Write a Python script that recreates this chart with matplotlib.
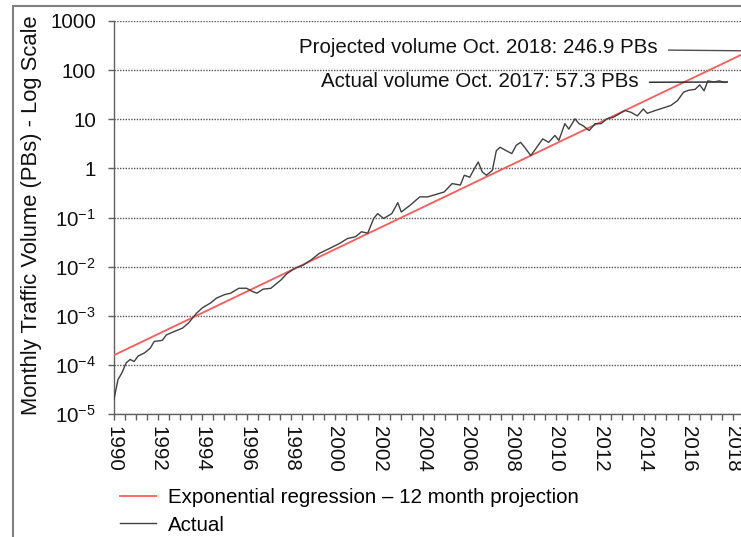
import numpy as np
import matplotlib
matplotlib.use("Agg")
import matplotlib.pyplot as plt
from matplotlib.patches import Rectangle
from matplotlib.ticker import FixedLocator, FixedFormatter, MultipleLocator, NullLocator

plt.rcParams["font.family"] = ["Liberation Sans", "DejaVu Sans"]
plt.rcParams["mathtext.default"] = "regular"

# ============================================================
# DATA
# ============================================================

actual_years = [
    1990.0, 1990.18, 1990.36, 1990.55, 1990.73, 1990.91, 1991.09, 1991.37, 1991.64, 1991.82,
    1992.19, 1992.37, 1992.73, 1993.1, 1993.37, 1993.55, 1993.73, 1994.0, 1994.37, 1994.64,
    1995.0, 1995.28, 1995.65, 1996.0, 1996.28, 1996.47, 1996.74, 1997.1, 1997.29, 1997.56,
    1997.83, 1998.2, 1998.56, 1998.93, 1999.29, 1999.75, 2000.2, 2000.56, 2000.93, 2001.2,
    2001.48, 2001.75, 2001.93, 2002.2, 2002.57, 2002.84, 2003.0, 2003.4, 2003.84, 2004.2,
    2004.57, 2004.94, 2005.3, 2005.67, 2005.85, 2006.1, 2006.3, 2006.48, 2006.66, 2006.85,
    2007.12, 2007.3, 2007.47, 2007.75, 2008.0, 2008.2, 2008.4, 2008.58, 2008.86, 2009.13,
    2009.4, 2009.67, 2009.95, 2010.13, 2010.4, 2010.58, 2010.86, 2011.04, 2011.22, 2011.5,
    2011.77, 2012.04, 2012.3, 2012.6, 2012.86, 2013.13, 2013.4, 2013.68, 2013.95, 2014.13,
    2014.5, 2014.86, 2015.2, 2015.5, 2015.77, 2016.0, 2016.3, 2016.5, 2016.7, 2016.87,
    2017.14, 2017.4, 2017.6, 2017.75,
]

actual_pbs = [
    2.0e-5, 5.0e-5, 6.9e-5, 1.1e-4, 1.29e-4, 1.17e-4, 1.51e-4, 1.74e-4, 2.19e-4, 3.0e-4,
    3.16e-4, 4.07e-4, 4.79e-4, 5.6e-4, 7.1e-4, 8.9e-4, 1.12e-3, 1.45e-3, 1.82e-3, 2.29e-3,
    2.69e-3, 2.88e-3, 3.63e-3, 3.63e-3, 3.09e-3, 2.88e-3, 3.47e-3, 3.63e-3, 4.27e-3, 5.37e-3,
    7.24e-3, 9.33e-3, 1.07e-2, 1.38e-2, 1.86e-2, 2.34e-2, 2.95e-2, 3.72e-2, 4.07e-2, 5.13e-2,
    4.79e-2, 9.55e-2, 0.120, 0.0955, 0.120, 0.200, 0.129, 0.178, 0.263, 0.263,
    0.295, 0.331, 0.490, 0.457, 0.724, 0.661, 0.977, 1.35, 0.851, 0.724,
    0.912, 2.29, 2.69, 2.29, 2.0, 2.95, 3.39, 2.69, 1.82, 2.69,
    3.98, 3.39, 4.68, 3.72, 8.13, 6.31, 10.2, 8.13, 7.41, 5.89,
    8.13, 8.13, 10.2, 11.0, 12.9, 15.1, 13.8, 11.7, 16.2, 13.2,
    15.1, 17.0, 19.1, 24.0, 35.5, 38.9, 40.7, 50.1, 38.0, 60.3,
    57.5, 60.3, 56.2, 57.3,
]

# regression line end points (Jan 1990 and the Oct. 2018 projection)
regression_years = [1990.0, 2018.75]
regression_pbs = [1.58e-4, 246.9]

projected_label = "Projected volume Oct. 2018: 246.9 PBs"
actual_label = "Actual volume Oct. 2017: 57.3 PBs"

y_ticks = [1e-5, 1e-4, 1e-3, 1e-2, 1e-1, 1, 10, 100, 1000]
y_tick_labels = ["$10^{-5}$", "$10^{-4}$", "$10^{-3}$", "$10^{-2}$", "$10^{-1}$",
                 "1", "10", "100", "1000"]
x_ticks = list(range(1990, 2019, 2))

# ============================================================
# PLOT
# ============================================================

W, H = 741, 537
FS = 14.8
fig = plt.figure(figsize=(W / 100, H / 100), dpi=100)
ax = fig.add_axes([114 / W, 1 - 414 / H, 1 - 114 / W, (414 - 21) / H])

ax.set_yscale("log")

red_line, = ax.plot(regression_years, regression_pbs, color="#ff5a5a", lw=1.3,
                    label="Exponential regression \u2013 12 month projection", zorder=3)
black_line, = ax.plot(actual_years, actual_pbs, color="#404040", lw=1.0,
                      label="Actual", zorder=4)

ax.set_xlim(1990, 1990 + (W - 114) / 22.1)
ax.set_ylim(1e-5, 1000)

ax.yaxis.set_major_locator(FixedLocator(y_ticks))
ax.yaxis.set_major_formatter(FixedFormatter(y_tick_labels))
ax.yaxis.set_minor_locator(NullLocator())
ax.xaxis.set_major_locator(FixedLocator(x_ticks))
ax.xaxis.set_minor_locator(MultipleLocator(0.5))

ax.tick_params(axis="y", which="major", direction="out", length=4, width=1,
               color="#606060", pad=9, labelsize=FS, labelcolor="#111111")
ax.tick_params(axis="x", which="both", direction="out", length=4, width=1,
               color="#606060", pad=5, labelsize=FS, labelcolor="#111111",
               labelrotation=-90)
for lab in ax.get_xticklabels():
    lab.set_va("top")
    lab.set_ha("center")

ax.grid(axis="y", which="major", color="#555555", lw=1.0, linestyle=(0, (1, 1)))

for s in ["top", "right"]:
    ax.spines[s].set_visible(False)
for s in ["left", "bottom"]:
    ax.spines[s].set_color("#606060")
    ax.spines[s].set_linewidth(1.0)

# annotations: text to the left, a flat leader line to the point
ax.annotate(projected_label, xy=(regression_years[1], regression_pbs[1]),
            xytext=(-92, -2), textcoords="offset pixels",
            ha="right", va="baseline", fontsize=FS, color="#111111",
            annotation_clip=False,
            arrowprops=dict(arrowstyle="-", color="#505050", lw=1.0,
                            relpos=(1.0, 0.36), shrinkA=6, shrinkB=0))
ax.annotate(actual_label, xy=(actual_years[-1], actual_pbs[-1]),
            xytext=(-89, -5), textcoords="offset pixels",
            ha="right", va="baseline", fontsize=FS, color="#111111",
            annotation_clip=False,
            arrowprops=dict(arrowstyle="-", color="#202020", lw=1.0,
                            relpos=(1.0, 0.46), shrinkA=6, shrinkB=0))

fig.text(32 / W, 1 - 215 / H, "Monthly Traffic Volume (PBs) - Log Scale",
         rotation=90, ha="center", va="center", fontsize=15.8, color="#111111")

fig.legend(handles=[red_line, black_line], loc="upper left",
           bbox_to_anchor=(120 / W, 1 - 488 / H), frameon=False,
           fontsize=FS, handlelength=1.75, handletextpad=0.6,
           labelspacing=0.42, borderpad=0, borderaxespad=0)

# outer frame of the original figure
fig.patches.append(Rectangle((13 / W, -0.5), 2, 1.5 - 6 / H, transform=fig.transFigure,
                             fill=False, edgecolor="#808080", lw=1.5))

fig.savefig("out.png", dpi=100)
